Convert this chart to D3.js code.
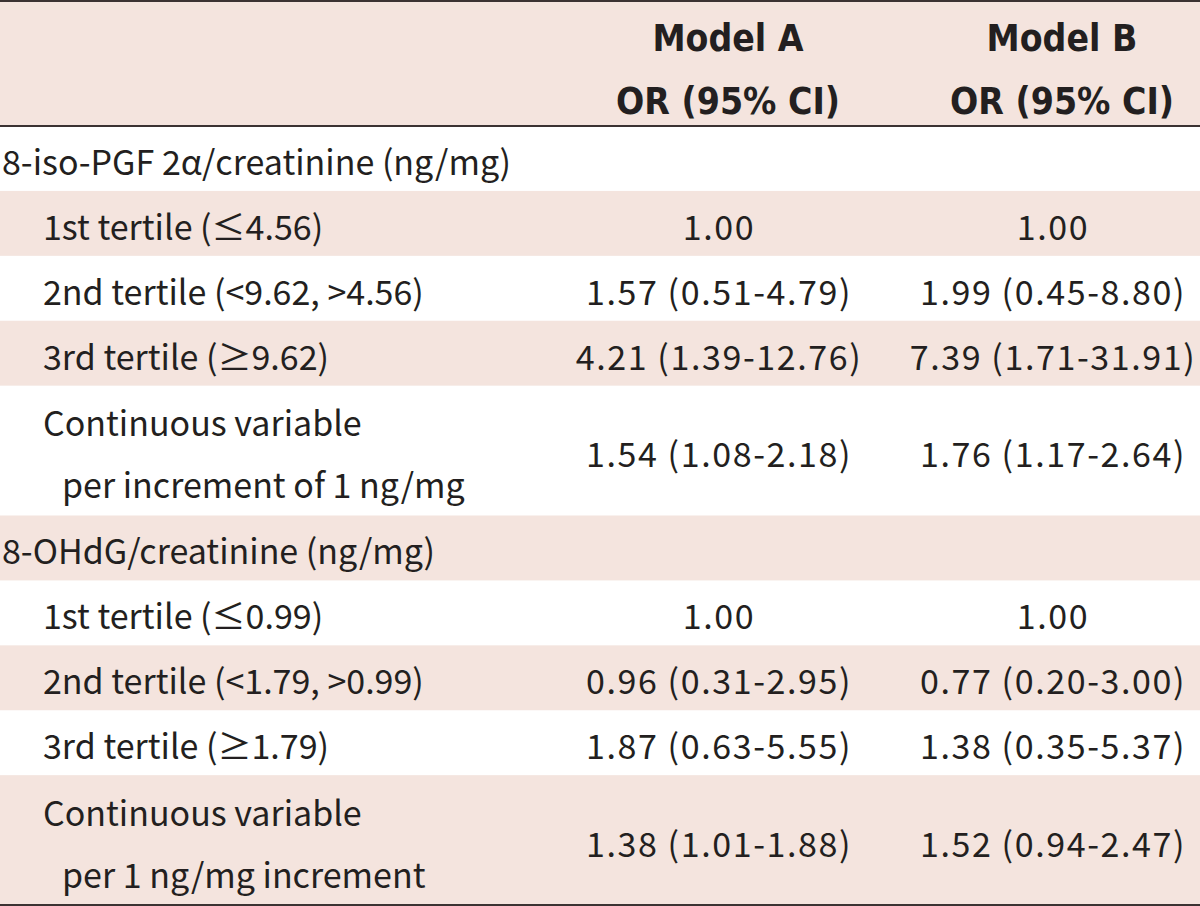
<!DOCTYPE html>
<html><head><meta charset="utf-8">
<script src="https://cdn.jsdelivr.net/npm/d3@7"></script>
<style>html,body{margin:0;padding:0;background:#fff;}</style>
</head><body>
<svg id="chart" width="1200" height="906"></svg>
<script>
const headerLines = [["Model A", "OR (95% CI)"], ["Model B", "OR (95% CI)"]];
const rowLabels = [
  ["8-iso-PGF 2\u03b1/creatinine (ng/mg)"],
  ["1st tertile (\u22644.56)"],
  ["2nd tertile (<9.62, >4.56)"],
  ["3rd tertile (\u22659.62)"],
  ["Continuous variable", "per increment of 1 ng/mg"],
  ["8-OHdG/creatinine (ng/mg)"],
  ["1st tertile (\u22640.99)"],
  ["2nd tertile (<1.79, >0.99)"],
  ["3rd tertile (\u22651.79)"],
  ["Continuous variable", "per 1 ng/mg increment"]
];
const rowIsGroup = [true, false, false, false, false, true, false, false, false, false];
const modelA = ["", "1.00", "1.57 (0.51-4.79)", "4.21 (1.39-12.76)", "1.54 (1.08-2.18)",
                "", "1.00", "0.96 (0.31-2.95)", "1.87 (0.63-5.55)", "1.38 (1.01-1.88)"];
const modelB = ["", "1.00", "1.99 (0.45-8.80)", "7.39 (1.71-31.91)", "1.76 (1.17-2.64)",
                "", "1.00", "0.77 (0.20-3.00)", "1.38 (0.35-5.37)", "1.52 (0.94-2.47)"];

const W = 1200, H = 906;
const topY = 2, headerH = 124;
const shade = "#f4e4de", ink = "#231f20", rule = "#3b3232";
const bodyFont = "'Noto Sans CJK KR', 'Noto Sans', sans-serif";
const headFont = "'DejaVu Sans Condensed', 'Liberation Sans Narrow', sans-serif";

const svg = d3.select("#chart");
const units = rowLabels.map(l => l.length);
const cum = [0]; units.forEach(u => cum.push(cum[cum.length - 1] + u));
const y = d3.scaleLinear().domain([0, cum[cum.length - 1]]).range([topY + headerH, 905]);
const colX = d3.scaleOrdinal().domain(["A", "B"]).range([719, 1053]);
const headX = d3.scaleOrdinal().domain(["A", "B"]).range([728, 1062]);

// header
svg.append("rect").attr("x", 0).attr("y", topY).attr("width", W).attr("height", headerH).attr("fill", shade);
headerLines.forEach((lines, i) => {
  lines.forEach((t, j) => {
    svg.append("text").attr("x", headX(i === 0 ? "A" : "B")).attr("y", j === 0 ? 38 : 101)
      .attr("text-anchor", "middle").attr("dominant-baseline", "central")
      .attr("font-family", headFont).attr("font-weight", "bold").attr("font-size", 37)
      .attr("fill", ink).text(t);
  });
});

// rows
rowLabels.forEach((lines, i) => {
  const y0 = y(cum[i]), y1 = y(cum[i + 1]);
  if (i % 2 === 1) svg.append("rect").attr("x", 0).attr("y", y0).attr("width", W).attr("height", y1 - y0).attr("fill", shade);
  const mid = (y0 + y1) / 2 + 2;
  lines.forEach((t, j) => {
    const n = lines.length;
    const ly = n === 1 ? mid : (j === 0 ? mid - 31 : mid + 31);
    const lx = rowIsGroup[i] ? 2 : (j === 0 ? 43 : 62);
    svg.append("text").attr("x", lx).attr("y", ly).attr("dominant-baseline", "central")
      .attr("font-family", bodyFont).attr("font-size", 34).attr("fill", ink).text(t);
  });
  [["A", modelA[i]], ["B", modelB[i]]].forEach(([c, v]) => {
    if (!v) return;
    svg.append("text").attr("x", colX(c)).attr("y", mid).attr("text-anchor", "middle")
      .attr("dominant-baseline", "central").attr("font-family", bodyFont).attr("font-size", 34)
      .attr("letter-spacing", 1.6).attr("fill", ink).text(v);
  });
});

// rules
[1, topY + headerH, 905].forEach(yy => {
  svg.append("line").attr("x1", 0).attr("x2", W).attr("y1", yy).attr("y2", yy)
    .attr("stroke", rule).attr("stroke-width", 2);
});
</script>
</body></html>
